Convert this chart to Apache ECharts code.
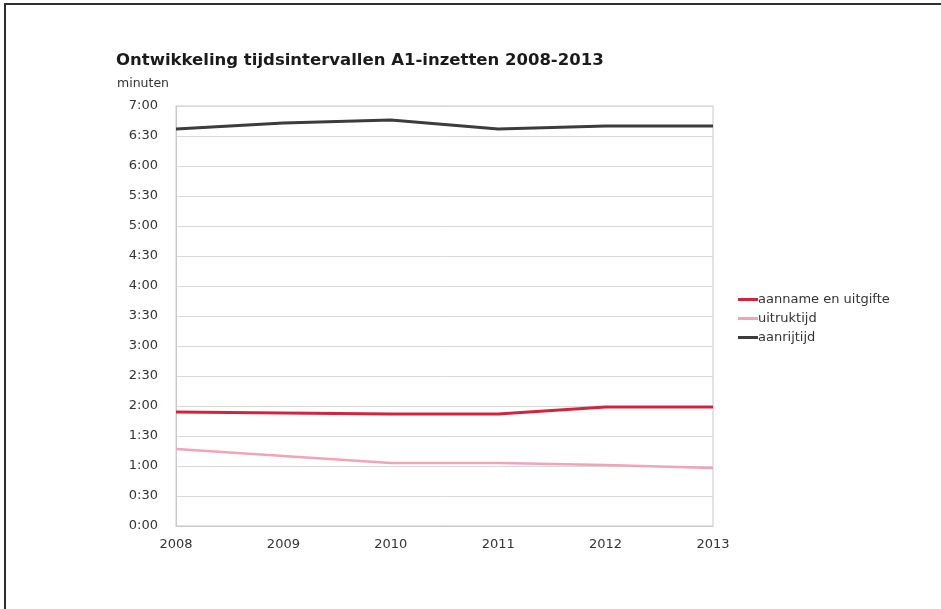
<!DOCTYPE html>
<html>
<head>
<meta charset="utf-8">
<script src="https://cdn.jsdelivr.net/npm/echarts@6/dist/echarts.min.js"></script>
<style>
  html, body { margin: 0; padding: 0; background: #fff; }
  #chart { width: 941px; height: 609px; }
</style>
</head>
<body>
<div id="chart"></div>
<script>
// Years on the x axis
const years = ['2008', '2009', '2010', '2011', '2012', '2013'];

// Durations in seconds
const aannameEnUitgifte = [114, 113, 112, 112, 119, 119];
const uitruktijd = [77, 70, 63, 63, 61, 58];
const aanrijtijd = [397, 403, 406, 397, 400, 400];

// Y axis ticks every 30 seconds, 0:00 .. 7:00
const yMin = 0;
const yMax = 420;
const yStep = 30;

function mmss(sec) {
  const m = Math.floor(sec / 60);
  const s = Math.round(sec % 60);
  return m + ':' + (s < 10 ? '0' : '') + s;
}

const font = 'DejaVu Sans, Verdana, sans-serif';
const chart = echarts.init(document.getElementById('chart'));

chart.setOption({
  animation: false,
  backgroundColor: '#fff',
  graphic: [
    {
      type: 'rect',
      shape: { x: 5, y: 4, width: 960, height: 640 },
      style: { fill: 'none', stroke: '#2e2e2e', lineWidth: 2 },
      silent: true
    },
    {
      type: 'text',
      left: 116, top: 52,
      style: {
        text: 'Ontwikkeling tijdsintervallen A1-inzetten 2008-2013',
        font: 'bold 16.5px ' + font,
        fill: '#1a1a1a'
      }
    },
    {
      type: 'text',
      left: 117, top: 77,
      style: { text: 'minuten', font: '12.5px ' + font, fill: '#333' }
    }
  ],
  grid: {
    left: 176, right: 228, top: 106, bottom: 83,
    show: true, borderColor: '#c8c8c8', borderWidth: 1
  },
  legend: {
    orient: 'vertical',
    left: 733, top: 288,
    itemWidth: 20, itemHeight: 3, itemGap: 6,
    icon: 'rect',
    textStyle: { fontFamily: font, fontSize: 13, color: '#333', padding: [0, 0, 0, -5] },
    data: ['aanname en uitgifte', 'uitruktijd', 'aanrijtijd']
  },
  xAxis: {
    type: 'category',
    data: years,
    boundaryGap: false,
    axisLine: { lineStyle: { color: '#c8c8c8' } },
    axisTick: { show: false },
    axisLabel: { fontFamily: font, fontSize: 13, color: '#333', margin: 12 },
    splitLine: { show: false }
  },
  yAxis: {
    type: 'value',
    min: yMin, max: yMax, interval: yStep,
    axisLine: { show: true, lineStyle: { color: '#c8c8c8' } },
    axisTick: { show: false },
    axisLabel: { fontFamily: font, fontSize: 13, color: '#333', margin: 18, formatter: mmss },
    splitLine: { lineStyle: { color: '#d8d8d8' } }
  },
  series: [
    {
      name: 'aanname en uitgifte', type: 'line', data: aannameEnUitgifte,
      symbol: 'none', lineStyle: { color: '#d3243f', width: 3 }, itemStyle: { color: '#d3243f' }
    },
    {
      name: 'uitruktijd', type: 'line', data: uitruktijd,
      symbol: 'none', lineStyle: { color: '#f2a3b7', width: 2.5 }, itemStyle: { color: '#f2a3b7' }
    },
    {
      name: 'aanrijtijd', type: 'line', data: aanrijtijd,
      symbol: 'none', lineStyle: { color: '#3c3c3c', width: 3 }, itemStyle: { color: '#3c3c3c' }
    }
  ]
});
</script>
</body>
</html>
